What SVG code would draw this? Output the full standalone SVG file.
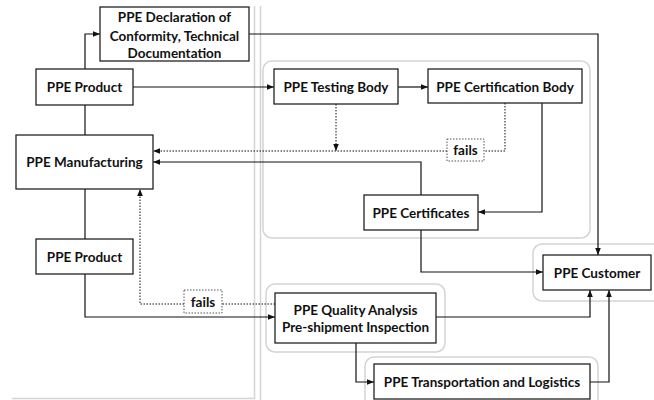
<svg xmlns="http://www.w3.org/2000/svg" width="654" height="400" viewBox="0 0 654 400">
<defs>
<style>
.box{fill:#fff;stroke:#222;stroke-width:1.3}
.grp{fill:none;stroke:#d4d4d4;stroke-width:1.5}
.sep{fill:none;stroke:#d4d4d4;stroke-width:1.5}
.t{font-family:Lato,"Open Sans",sans-serif;font-weight:bold;font-size:13.5px;fill:#111;text-anchor:middle;dominant-baseline:central}
.c{fill:none;stroke:#111;stroke-width:1.2}
.d{fill:none;stroke:#111;stroke-width:1;stroke-dasharray:1.5 1.5}
.fb{fill:#fff;stroke:#555;stroke-width:1;stroke-dasharray:1.5 1.5}
</style>
<marker id="a" viewBox="0 0 10 10" refX="10" refY="5" markerWidth="7" markerHeight="7" markerUnits="userSpaceOnUse" orient="auto">
<path d="M0,1 L10,5 L0,9 Z" fill="#111"/>
</marker>
</defs>
<rect width="654" height="400" fill="#fff"/>
<g id="separators">
<path class="sep" d="M254.5,6 V398.5 H12"/>
<path class="sep" d="M260.5,6 V400"/>
</g>
<g id="groups">
<rect class="grp" x="263" y="61" width="327" height="177" rx="9"/>
<rect class="grp" x="533" y="244" width="130" height="57" rx="9"/>
<rect class="grp" x="266" y="284" width="179" height="68" rx="9"/>
<rect class="grp" x="365" y="357" width="233" height="60" rx="9"/>
</g>
<g id="connectors">
<path class="c" d="M85,69 V34 H100" marker-end="url(#a)"/>
<path class="c" d="M133,87 H274" marker-end="url(#a)"/>
<path class="c" d="M85,105 V135"/>
<path class="c" d="M398,87 H428" marker-end="url(#a)"/>
<path class="c" d="M249,34 H598 V255" marker-end="url(#a)"/>
<path class="d" d="M336,104 V151" marker-end="url(#a)"/>
<path class="d" d="M505,103 V151 H484"/>
<path class="d" d="M447,151 H153" marker-end="url(#a)"/>
<path class="c" d="M542,103 V212 H478" marker-end="url(#a)"/>
<path class="c" d="M421,195 V162 H153" marker-end="url(#a)"/>
<path class="c" d="M421,230 V272 H543" marker-end="url(#a)"/>
<path class="c" d="M85,189 V239"/>
<path class="c" d="M85,274 V317 H275" marker-end="url(#a)"/>
<path class="d" d="M275,304 H222"/>
<path class="d" d="M184,304 H140 V189" marker-end="url(#a)"/>
<path class="c" d="M436,317 H590 V290" marker-end="url(#a)"/>
<path class="c" d="M356,343 V382 H374" marker-end="url(#a)"/>
<path class="c" d="M590,382 H609 V290" marker-end="url(#a)"/>
</g>
<g id="fails1"><rect class="fb" x="447" y="139" width="37" height="22"/><text class="t" x="465.5" y="150">fails</text></g>
<g id="fails2"><rect class="fb" x="184" y="290" width="38" height="23"/><text class="t" x="203" y="301.5">fails</text></g>
<g id="declaration"><rect class="box" x="100" y="7" width="149" height="54"/>
<text class="t" x="174.5" y="17">PPE Declaration of</text>
<text class="t" x="174.5" y="35.5">Conformity, Technical</text>
<text class="t" x="174.5" y="53">Documentation</text></g>
<g id="product1"><rect class="box" x="36" y="69" width="97" height="36"/><text class="t" x="84.5" y="87">PPE Product</text></g>
<g id="manufacturing"><rect class="box" x="16" y="135" width="137" height="54"/><text class="t" x="84.5" y="162">PPE Manufacturing</text></g>
<g id="product2"><rect class="box" x="36" y="239" width="97" height="35"/><text class="t" x="84.5" y="256.5">PPE Product</text></g>
<g id="testing"><rect class="box" x="274" y="69" width="124" height="35"/><text class="t" x="336" y="87">PPE Testing Body</text></g>
<g id="certbody"><rect class="box" x="428" y="69" width="154" height="34"/><text class="t" x="505" y="86.5">PPE Certification Body</text></g>
<g id="certificates"><rect class="box" x="364" y="195" width="114" height="35"/><text class="t" x="421" y="212.5">PPE Certificates</text></g>
<g id="customer"><rect class="box" x="543" y="255" width="108" height="35"/><text class="t" x="597" y="273">PPE Customer</text></g>
<g id="qa"><rect class="box" x="275" y="293" width="161" height="50"/>
<text class="t" x="355.5" y="309.5">PPE Quality Analysis</text>
<text class="t" x="355.5" y="327">Pre-shipment Inspection</text></g>
<g id="transport"><rect class="box" x="374" y="364" width="216" height="35"/><text class="t" x="482" y="382">PPE Transportation and Logistics</text></g>
</svg>
